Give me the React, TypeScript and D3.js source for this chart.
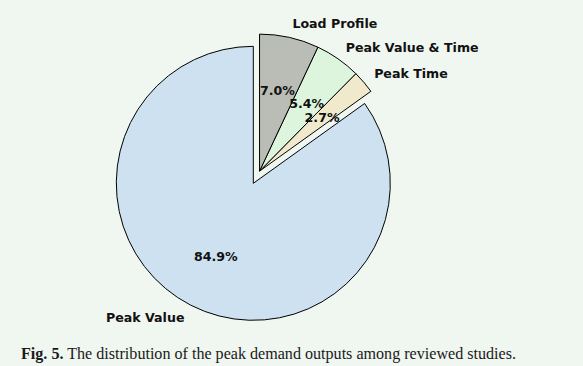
import React from "react";
import * as d3 from "d3";

const categories = ["Peak Value", "Peak Time", "Peak Value & Time", "Load Profile"];
const values = [84.9, 2.7, 5.4, 7.0];
const colors = ["#cde1f0", "#f0e9cc", "#ddf5dd", "#babdb6"];
const exploded = [false, true, true, true];
const caption = "The distribution of the peak demand outputs among reviewed studies.";

const W = 583;
const H = 366;
const cx = 253.3;
const cy = 183.3;
const R = 137;

export default function App() {
  const pie = d3
    .pie<number>()
    .sort(null)
    .value((d) => d)
    .startAngle(0)
    .endAngle(-2 * Math.PI);
  const arcs = pie(values);
  const arcGen = d3.arc<d3.PieArcDatum<number>>().innerRadius(0).outerRadius(R);

  const exIdx = arcs.map((_, i) => i).filter((i) => exploded[i]);
  const gStart = arcs[exIdx[0]].startAngle;
  const gEnd = arcs[exIdx[exIdx.length - 1]].endAngle;
  const gMid = (gStart + gEnd) / 2;
  const off = 0.1 * R;
  const ex = { x: off * Math.sin(gMid), y: -off * Math.cos(gMid) };

  const font = "'DejaVu Sans', sans-serif";

  return (
    <svg width={W} height={H} style={{ position: "absolute", left: 0, top: 0 }}>
      <rect width={W} height={H} fill="#f0f6f0" />
      {arcs.map((a, i) => {
        const ox = cx + (exploded[i] ? ex.x : 0);
        const oy = cy + (exploded[i] ? ex.y : 0);
        return (
          <path
            key={categories[i]}
            d={arcGen(a) || ""}
            transform={`translate(${ox},${oy})`}
            fill={colors[i]}
            stroke="#000"
            strokeWidth={1}
            strokeLinejoin="miter"
          />
        );
      })}
      {arcs.map((a, i) => {
        const ox = cx + (exploded[i] ? ex.x : 0);
        const oy = cy + (exploded[i] ? ex.y : 0);
        const mid = (a.startAngle + a.endAngle) / 2;
        const sx = Math.sin(mid);
        const lx = ox + 1.1 * R * sx;
        const ly = oy - 1.1 * R * Math.cos(mid);
        const px = ox + 0.6 * R * sx;
        const py = oy - 0.6 * R * Math.cos(mid);
        return (
          <g key={"t" + categories[i]} fontFamily={font} fontWeight="bold" fontSize={12.6} fill="#111">
            <text x={lx} y={ly} dy="0.35em" textAnchor={sx < 0 ? "end" : "start"}>
              {categories[i]}
            </text>
            <text x={px} y={py} dy="0.35em" textAnchor="middle">
              {values[i].toFixed(1) + "%"}
            </text>
          </g>
        );
      })}
      <text
        x={21}
        y={353}
        dy="0.35em"
        fontFamily="'Liberation Serif', serif"
        fontSize={16.1}
        fill="#1a1a1a"
      >
        <tspan fontWeight="bold">Fig. 5.</tspan>
        <tspan> {caption}</tspan>
      </text>
    </svg>
  );
}
